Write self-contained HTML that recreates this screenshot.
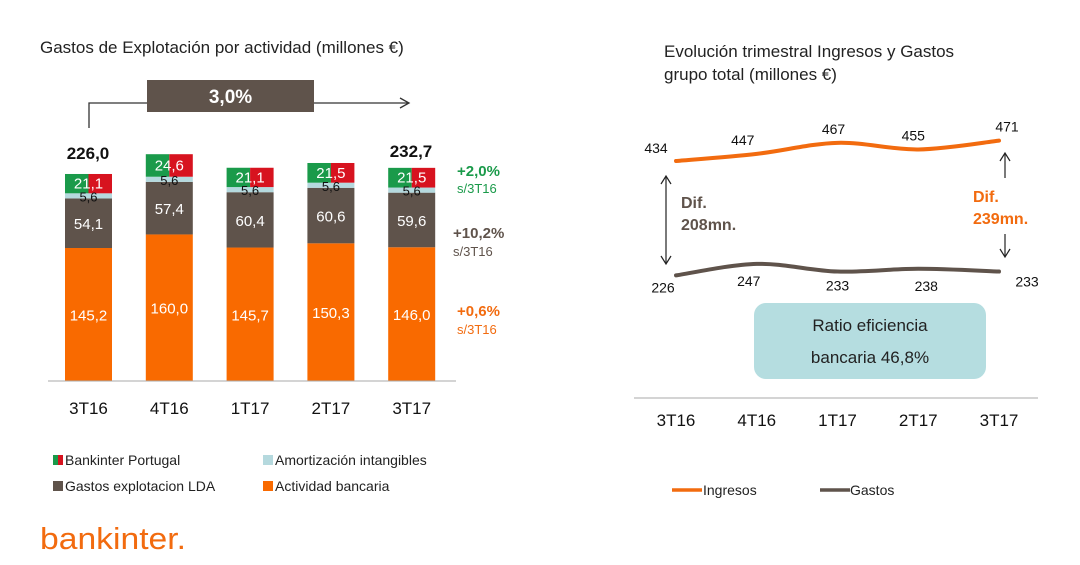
<!DOCTYPE html>
<html><head><meta charset="utf-8">
<style>
body{margin:0;background:#fff;}
svg{display:block;font-family:"Liberation Sans",sans-serif;}
</style></head>
<body>
<svg id="c" width="1080" height="565" viewBox="0 0 1080 565">
<text x="40" y="53" font-size="17" fill="#222">Gastos de Explotación por actividad (millones €)</text>
<g>
<polyline points="89,128 89,103 408,103" fill="none" stroke="#333" stroke-width="1.3"/>
<polyline points="400,98 409,103 400,108" fill="none" stroke="#333" stroke-width="1.3"/>
<rect x="147" y="80" width="167" height="32" fill="#5f534b"/>
<text x="230.5" y="103" font-size="19" font-weight="bold" fill="#fff" text-anchor="middle">3,0%</text>
</g>
<g id="bars"></g>
<line x1="48" y1="381" x2="456" y2="381" stroke="#aaa" stroke-width="1"/>
<text x="88" y="159" font-size="17" font-weight="bold" text-anchor="middle" fill="#111">226,0</text>
<text x="411" y="157" font-size="17" font-weight="bold" text-anchor="middle" fill="#111">232,7</text>
<g font-size="15" font-weight="bold">
<text x="457" y="176" fill="#1a9a4a">+2,0%</text><text x="457" y="193" font-size="13" font-weight="normal" fill="#1a9a4a">s/3T16</text>
<text x="453" y="238" fill="#5f534b">+10,2%</text><text x="453" y="256" font-size="13" font-weight="normal" fill="#5f534b">s/3T16</text>
<text x="457" y="316" fill="#f26b0f">+0,6%</text><text x="457" y="334" font-size="13" font-weight="normal" fill="#f26b0f">s/3T16</text>
</g>
<g font-size="14" fill="#222">
<rect x="53" y="455" width="5" height="10" fill="#1a9a4a"/><rect x="58" y="455" width="5" height="10" fill="#d7131f"/>
<text x="65" y="465">Bankinter Portugal</text>
<rect x="263" y="455" width="10" height="10" fill="#b5d9de"/><text x="275" y="465">Amortización intangibles</text>
<rect x="53" y="481" width="10" height="10" fill="#5f534b"/><text x="65" y="491">Gastos explotacion LDA</text>
<rect x="263" y="481" width="10" height="10" fill="#f96a00"/><text x="275" y="491">Actividad bancaria</text>
</g>
<text x="40" y="549" font-size="31" fill="#f26b0f" textLength="146" lengthAdjust="spacingAndGlyphs">bankinter.</text>

<text x="664" y="57" font-size="17" fill="#222">Evolución trimestral Ingresos y Gastos</text>
<text x="664" y="80" font-size="17" fill="#222">grupo total (millones €)</text>
<g id="lines"></g>
<g>
<line x1="666" y1="177" x2="666" y2="263" stroke="#222" stroke-width="1.2"/>
<polyline points="661,184 666,176 671,184" fill="none" stroke="#222" stroke-width="1.2"/>
<polyline points="661,256 666,264 671,256" fill="none" stroke="#222" stroke-width="1.2"/>
<text x="681" y="208" font-size="16" font-weight="bold" fill="#5f534b">Dif.</text>
<text x="681" y="230" font-size="16" font-weight="bold" fill="#5f534b">208mn.</text>
<line x1="1005" y1="154" x2="1005" y2="178" stroke="#222" stroke-width="1.2"/>
<polyline points="1000,161 1005,153 1010,161" fill="none" stroke="#222" stroke-width="1.2"/>
<line x1="1005" y1="234" x2="1005" y2="256" stroke="#222" stroke-width="1.2"/>
<polyline points="1000,249 1005,257 1010,249" fill="none" stroke="#222" stroke-width="1.2"/>
<text x="973" y="202" font-size="16" font-weight="bold" fill="#f26b0f">Dif.</text>
<text x="973" y="224" font-size="16" font-weight="bold" fill="#f26b0f">239mn.</text>
</g>
<g>
<rect x="754" y="303" width="232" height="76" rx="12" fill="#b5dde0"/>
<text x="870" y="331" font-size="17" text-anchor="middle" fill="#222">Ratio eficiencia</text>
<text x="870" y="363" font-size="17" text-anchor="middle" fill="#222">bancaria  46,8%</text>
</g>
<line x1="634" y1="398" x2="1038" y2="398" stroke="#bbb" stroke-width="1.2"/>
<g font-size="14" fill="#222">
<line x1="672" y1="490" x2="702" y2="490" stroke="#f26b0f" stroke-width="3.5"/><text x="703" y="495">Ingresos</text>
<line x1="820" y1="490" x2="850" y2="490" stroke="#5f534b" stroke-width="3.5"/><text x="850" y="495">Gastos</text>
</g>
</svg>
<script>
const quarters=["3T16","4T16","1T17","2T17","3T17"];
const actividad=[145.2,160.0,145.7,150.3,146.0];
const lda=[54.1,57.4,60.4,60.6,59.6];
const amort=[5.6,5.6,5.6,5.6,5.6];
const portugal=[21.1,24.6,21.1,21.5,21.5];
const ingresos=[434,447,467,455,471];
const gastos=[226,247,233,238,233];
const NS="http://www.w3.org/2000/svg";
function mk(t,a,p){const e=document.createElementNS(NS,t);for(const k in a)e.setAttribute(k,a[k]);p.appendChild(e);return e;}
const bars=document.getElementById('bars');
const base=381,k=0.916;
const bx=i=>65+i*80.8, bw=47;
const yv=v=>base-v*k;
quarters.forEach((q,i)=>{
  const x=bx(i);let acc=0;
  const g=mk('g',{},bars);
  
  
  const seg=(v,col,name)=>{const y0=yv(acc),y1=yv(acc+v);acc+=v;
    const r=mk('rect',{x:x,y:y1,width:bw,height:y0-y1,fill:col},g);
    
    return [y1,y0];};
  let s=seg(actividad[i],'#f96a00','bar-actividad');
  let t=mk('text',{x:x+bw/2,y:(s[0]+s[1])/2+6,'font-size':15,fill:'#fff','text-anchor':'middle'},g);t.textContent=actividad[i].toFixed(1).replace('.',',');
  s=seg(lda[i],'#5f534b','bar-lda');
  t=mk('text',{x:x+bw/2,y:(s[0]+s[1])/2+6,'font-size':15,fill:'#fff','text-anchor':'middle'},g);t.textContent=lda[i].toFixed(1).replace('.',',');
  const sa=seg(amort[i],'#b5d9de','bar-amortizacion');
  const y0=yv(acc),y1=yv(acc+portugal[i]);acc+=portugal[i];
  const r1=mk('rect',{x:x,y:y1,width:bw/2,height:y0-y1,fill:'#1a9a4a'},g);
  
  
  const r2=mk('rect',{x:x+bw/2,y:y1,width:bw/2,height:y0-y1,fill:'#d7131f'},g);
  
  
  t=mk('text',{x:x+bw/2,y:(y0+y1)/2+5,'font-size':15,fill:'#fff','text-anchor':'middle'},g);t.textContent=portugal[i].toFixed(1).replace('.',',');
  t=mk('text',{x:x+bw/2,y:sa[1]+3,'font-size':13,fill:'#111','text-anchor':'middle'},g);t.textContent=amort[i].toFixed(1).replace('.',',');
  t=mk('text',{x:x+bw/2,y:414,'font-size':17,fill:'#111','text-anchor':'middle'},g);t.textContent=q;
  
  
});
const lines=document.getElementById('lines');
const lx=i=>676+i*80.75, ly=v=>161-(v-434)*0.55;
function path(vals){const p=vals.map((v,i)=>[lx(i),ly(v)]);let d='M'+p[0];
  for(let i=0;i<p.length-1;i++){const a=p[i-1]||p[i],b=p[i],c=p[i+1],e=p[i+2]||c;
    d+=' C'+(b[0]+(c[0]-a[0])/6)+','+(b[1]+(c[1]-a[1])/6)+' '+(c[0]-(e[0]-b[0])/6)+','+(c[1]-(e[1]-b[1])/6)+' '+c[0]+','+c[1];}
  return d;}
const li=mk('path',{d:path(ingresos),fill:'none',stroke:'#f26b0f','stroke-width':4,'stroke-linecap':'round'},lines);


const lg=mk('path',{d:path(gastos),fill:'none',stroke:'#5f534b','stroke-width':4,'stroke-linecap':'round'},lines);


const ioff=[-8,-9,-9,-9,-9], ixo=[-20,-14,-4,-5,8];
ingresos.forEach((v,i)=>{const t=mk('text',{x:lx(i)+ixo[i],y:ly(v)+ioff[i],'font-size':14,fill:'#111','text-anchor':'middle'},lines);t.textContent=v;
  
  });
const gxo=[-13,-8,0,8,28], gyo=[17,22,19,22,15];
gastos.forEach((v,i)=>{const t=mk('text',{x:lx(i)+gxo[i],y:ly(v)+gyo[i],'font-size':14,fill:'#111','text-anchor':'middle'},lines);t.textContent=v;
  
  });
quarters.forEach((q,i)=>{const t=mk('text',{x:lx(i),y:426,'font-size':17,fill:'#111','text-anchor':'middle'},lines);t.textContent=q;
  
  });
</script>
</body></html>
